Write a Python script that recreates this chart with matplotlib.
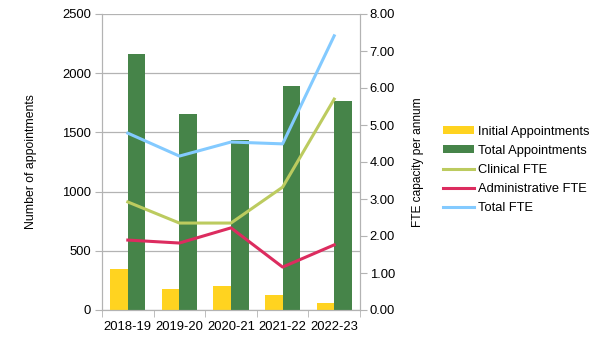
import numpy as np
import matplotlib
matplotlib.use("Agg")
import matplotlib.pyplot as plt
from matplotlib.ticker import FormatStrFormatter

plt.rcParams['font.family'] = ['Liberation Sans', 'DejaVu Sans']

years = ["2018-19", "2019-20", "2020-21", "2021-22", "2022-23"]
initial_appts = [346, 177, 203, 127, 59]
total_appts = [2162, 1655, 1436, 1892, 1765]
clinical_fte = [2.92, 2.35, 2.35, 3.32, 5.70]
admin_fte = [1.89, 1.81, 2.22, 1.16, 1.76]
total_fte = [4.78, 4.16, 4.54, 4.49, 7.41]

grey = "#b3b3b3"

fig = plt.figure(figsize=(6.06, 3.41), dpi=100)
ax = fig.add_axes([102/606, 31/341, 258/606, 296/341])
ax2 = ax.twinx()

x = np.arange(len(years))
w = 0.34
ax.bar(x - w/2, initial_appts, w, color="#ffd320", label="Initial Appointments", zorder=2)
ax.bar(x + w/2, total_appts, w, color="#468449", label="Total Appointments", zorder=2)

ax2.plot(x, clinical_fte, color="#bccb5f", lw=2.2, label="Clinical FTE")
ax2.plot(x, admin_fte, color="#dc2c5f", lw=2.2, label="Administrative FTE")
ax2.plot(x, total_fte, color="#83caff", lw=2.2, label="Total FTE")

ax.set_xlim(-0.5, len(years) - 0.5)
ax.set_ylim(0, 2500)
ax.set_yticks(range(0, 2501, 500))
ax2.set_ylim(0, 8)
ax2.set_yticks(range(0, 9))
ax2.yaxis.set_major_formatter(FormatStrFormatter("%.2f"))

ax.set_xticks(x)
ax.set_xticklabels(years)
ax.set_xticks(np.arange(-0.5, len(years)), minor=True)
ax.tick_params(axis="x", which="major", length=0, labelsize=9.4, pad=8)
ax.tick_params(axis="x", which="minor", length=5, color=grey)
ax.tick_params(axis="y", length=5, color=grey, labelsize=9.4, pad=3)
ax2.tick_params(axis="y", length=5, color=grey, labelsize=9.4, pad=2)

ax.grid(axis="y", color=grey, lw=0.9, zorder=0)
ax.set_axisbelow(True)
for a in (ax, ax2):
    for s in a.spines.values():
        s.set_color(grey)
    a.spines["top"].set_visible(False)

ax.set_ylabel("Number of appointments", fontsize=8.8, labelpad=18)
ax2.set_ylabel("FTE capacity per annum", fontsize=8.6, labelpad=12)

h1, l1 = ax.get_legend_handles_labels()
h2, l2 = ax2.get_legend_handles_labels()
fig.legend(h1 + h2, l1 + l2, loc="center left", bbox_to_anchor=(431/606, 1 - 170/341),
           frameon=False, fontsize=9.3, handlelength=2.4, handleheight=0.6,
           handletextpad=0.3, labelspacing=0.55)

fig.savefig("out.png", dpi=100)
